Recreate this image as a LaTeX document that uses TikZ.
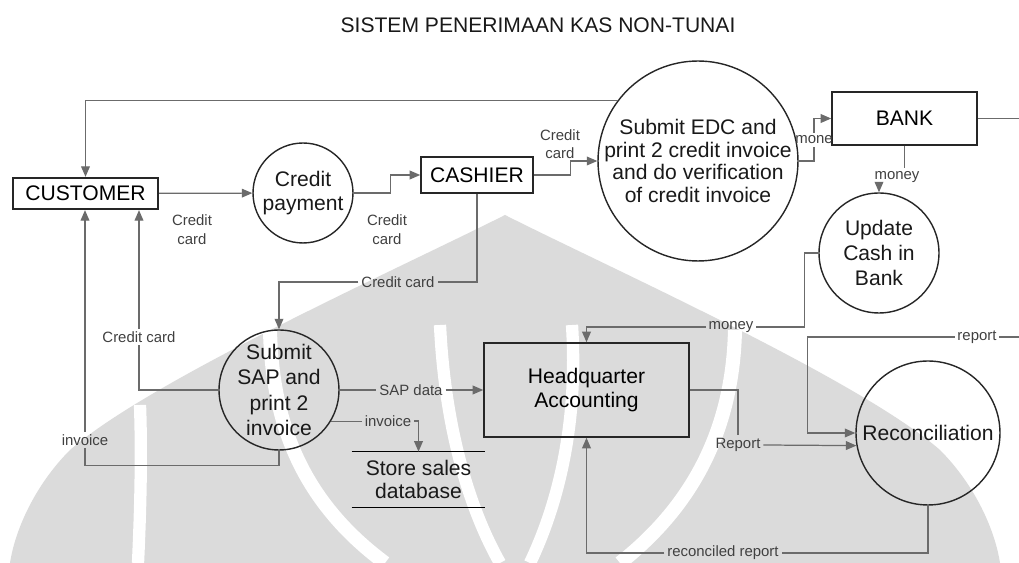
\documentclass[tikz,border=0pt]{standalone}
\usepackage{fontspec}
\setmainfont{Liberation Sans}
\usetikzlibrary{arrows.meta}

\definecolor{linegray}{gray}{0.42}
\definecolor{markgray}{gray}{0.86}

\begin{document}
\begin{tikzpicture}[x=0.02cm, y=-0.02cm,
    box/.style={draw=black!85, line width=0.9pt, inner sep=0pt, align=center,
        font=\fontsize{12}{14}\selectfont},
    bubble/.style={circle, draw=black!85, line width=0.8pt, inner sep=0pt, minimum size=#1},
    bubble/.default=2cm,
    txt/.style={align=center, text=black!90, font=\fontsize{12}{14}\selectfont},
    lbl/.style={align=center, inner sep=1.5pt, text=black!75, font=\fontsize{8.5}{11}\selectfont},
    conn/.style={draw=linegray, line width=0.7pt},
    flow/.style={conn, -{Triangle[length=6pt, width=5pt]}}]
    \useasboundingbox (0,0) rectangle (1019,563);

    % faint logo behind the diagram
    \fill[markgray] (505,215) .. controls (400,268) and (150,380) .. (70,450)
        .. controls (35,485) and (15,530) .. (10,563) -- (1000,563)
        .. controls (995,530) and (975,485) .. (940,450)
        .. controls (860,380) and (610,268) .. (505,215) -- cycle;
    \draw[white, line width=7pt] (140,405) .. controls (142,460) and (140,520) .. (138,563);
    \draw[white, line width=8pt] (270,330) .. controls (272,420) and (300,500) .. (385,563);
    \draw[white, line width=8pt] (735,330) .. controls (733,420) and (700,500) .. (620,563);
    \draw[white, line width=7pt] (440,325) .. controls (445,430) and (470,510) .. (500,563);
    \draw[white, line width=7pt] (572,325) .. controls (578,420) and (560,500) .. (530,563);

    \node[txt] (title) at (538,25) {SISTEM PENERIMAAN KAS NON-TUNAI};

    % entities and processes
    \node[box, line width=1.3pt, minimum width=2.9cm, minimum height=0.62cm] (customer) at (85.5,193.5) {CUSTOMER};
    \node[bubble=2cm, label={[txt]center:Credit\\payment}] (pay) at (303,193) {};
    \node[box, minimum width=2.24cm, minimum height=0.72cm] (cashier) at (477,175) {CASHIER};
    \node[bubble=4cm, label={[txt, font=\fontsize{12}{13}\selectfont]center:Submit EDC and\\print 2 credit invoice\\and do verification\\of credit invoice}] (edc) at (698,161) {};
    \node[box, minimum width=2.9cm, minimum height=1.06cm] (bank) at (904.5,118.5) {BANK};
    \node[bubble=2.4cm, label={[txt]center:Update\\Cash in\\Bank}] (upd) at (879,253) {};
    \node[bubble=2.4cm, label={[txt, font=\fontsize{12}{14.5}\selectfont]center:Submit\\SAP and\\print 2\\invoice}] (sap) at (279,390) {};
    \node[box, minimum width=4.1cm, minimum height=1.88cm] (hq) at (586.5,390) {Headquarter\\Accounting};
    \node[txt, font=\fontsize{12}{13}\selectfont, minimum width=2.66cm, minimum height=1.1cm, inner sep=0pt] (store) at (418.5,479.5) {Store sales\\database};
    \draw[line width=0.9pt] (store.north west) -- (store.north east) (store.south west) -- (store.south east);
    \node[bubble=2.88cm, label={[txt]center:Reconciliation}] (rec) at (928,433) {};

    \coordinate (bout) at (1019,118.5);
    \coordinate (rin) at (1019,337);

    % flow labels
    \node[lbl] (lcc1) at (192,230) {Credit\\card};
    \node[lbl] (lcc2) at (387,230) {Credit\\card};
    \node[lbl, font=\fontsize{8.5}{10}\selectfont] (lcc3) at (560,144) {Credit\\card};
    \node[lbl] (lmone) at (814,140) {mone};
    \node[lbl] (lmoney1) at (897,177) {money};
    \node[lbl] (lcc4) at (398,282) {Credit card};
    \node[lbl] (lcc5) at (139,337) {Credit card};
    \node[lbl] (linv1) at (85,440) {invoice};
    \node[lbl] (lsap) at (411,390) {SAP data};
    \node[lbl] (linv2) at (388,421) {invoice};
    \node[lbl] (lmoney2) at (731,327) {money};
    \node[lbl] (lrep) at (738,445) {Report};
    \node[lbl] (lrep2) at (977,337) {report};
    \node[lbl] (lrec) at (723,553) {reconciled report};

    % flows
    \draw[flow] (edc.143) -| (customer.north);
    \draw[flow] (customer) -- (pay);
    \draw[flow] (pay.east) -- ++(37,0) |- (cashier.west);
    \draw[flow] (cashier.east) -- ++(37,0) |- (edc.west);
    \draw[conn] (edc.east) -| (lmone.south);
    \draw[flow] (lmone.north) |- (bank.west);
    \draw[conn] (bank.east) -- (bout);
    \draw[conn] (bank.south) -- (bank.south |- lmoney1.north);
    \draw[flow] (lmoney1.south -| upd.north) -- (upd.north);
    \draw[conn] (upd.west) -- ++(-14,0) |- (lmoney2.east);
    \draw[flow] (lmoney2.west) -| (hq.north);
    \draw[conn] (cashier.south) |- (lcc4.east);
    \draw[flow] (lcc4.west) -| (sap.north);
    \draw[conn] (sap.west) -| (lcc5.south);
    \draw[flow] (lcc5.north) -- (lcc5.north |- customer.south);
    \draw[conn] (sap.south) -- ++(0,15) -| (linv1.south);
    \draw[flow] (linv1.north) -- (linv1.north |- customer.south);
    \draw[conn] (sap.east) -- (lsap.west);
    \draw[flow] (lsap.east) -- (hq.west);
    \draw[conn] (sap.-31) -- (sap.-31 -| linv2.west);
    \draw[flow] (linv2.east) -| (store.north);
    \draw[conn] (hq.east) -| (lrep.north);
    \draw[flow] (lrep.east) -- (rec.190);
    \draw[conn] (rin) -- (lrep2.east);
    \draw[flow] (lrep2.west) -- ++(-147,0) |- (rec.west);
    \draw[conn] (rec.south) |- (lrec.east);
    \draw[flow] (lrec.west) -| (hq.south);
\end{tikzpicture}
\end{document}
